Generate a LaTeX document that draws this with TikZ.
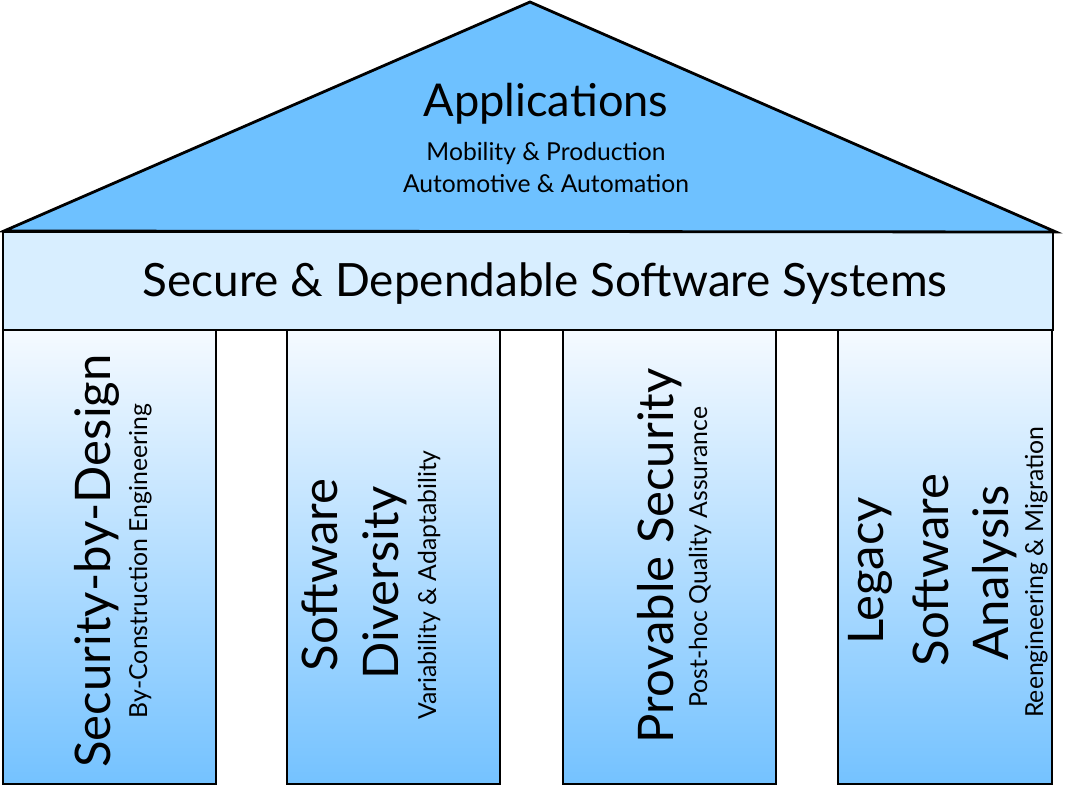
\documentclass[tikz,border=0pt]{standalone}
\usepackage{fontspec}
\setmainfont{Lato}
\usetikzlibrary{calc}
\definecolor{roofblue}{HTML}{6EC1FF}
\definecolor{beamblue}{HTML}{D8EEFF}
\definecolor{pilltop}{HTML}{F5FAFF}
\definecolor{pillbot}{HTML}{74C2FF}
\tikzset{
  outline/.style={draw=black, line width=2.1pt, line join=miter},
  pillar/.style={outline, top color=pilltop, bottom color=pillbot},
  vtext/.style={rotate=90, anchor=base, inner sep=0pt, text=black},
  htext/.style={anchor=base, inner sep=0pt, text=black},
  mainf/.style={font=\fontsize{36.8}{38}\selectfont},
  subf/.style={font=\fontsize{18.6}{20}\selectfont},
  roofsub/.style={font=\fontsize{18.5}{20}\selectfont},
}
\begin{document}
\begin{tikzpicture}[x=0.75pt, y=0.75pt]
\useasboundingbox (0,0) rectangle (1066,-789);
% pillars
\path[pillar] (3,-330) rectangle (216,-784);
\path[pillar] (287,-330) rectangle (500,-784);
\path[pillar] (563,-330) rectangle (776,-784);
\path[pillar] (838,-330) rectangle (1052,-784);
% beam
\path[outline, fill=beamblue] (3,-232) rectangle (1053,-330);
% roof
\path[outline, fill=roofblue] (4,-231) -- (530,-2) -- (1056,-232) -- cycle;
% roof texts
\node[htext, font=\fontsize{33.9}{35}\selectfont] (app) at (546,-116) {Applications};
\node[htext, roofsub] (mob) at (546,-160) {Mobility \& Production};
\node[htext, roofsub] (aut) at (546,-192) {Automotive \& Automation};
% beam text
\node[htext, font=\fontsize{34.4}{36}\selectfont] (beam) at (545,-296) {Secure \& Dependable Software Systems};
% pillar 1
\node[vtext, mainf] (p1a) at (110,-561) {Security-by-Design};
\node[vtext, subf] (p1b) at (147,-561) {By-Construction Engineering};
% pillar 2
\node[vtext, mainf] (p2a) at (337,-575) {Software};
\node[vtext, mainf] (p2b) at (398,-583) {Diversity};
\node[vtext, subf] (p2c) at (436,-585) {Variability \& Adaptability};
% pillar 3
\node[vtext, mainf] (p3a) at (673,-556) {Provable Security};
\node[vtext, subf] (p3b) at (707,-557) {Post-hoc Quality Assurance};
% pillar 4
\node[vtext, mainf] (p4a) at (883,-571) {Legacy};
\node[vtext, mainf] (p4b) at (948,-570) {Software};
\node[vtext, mainf] (p4c) at (1008,-573) {Analysis};
\node[vtext, subf] (p4d) at (1043,-572) {Reengineering \& Migration};
\end{tikzpicture}
\end{document}
